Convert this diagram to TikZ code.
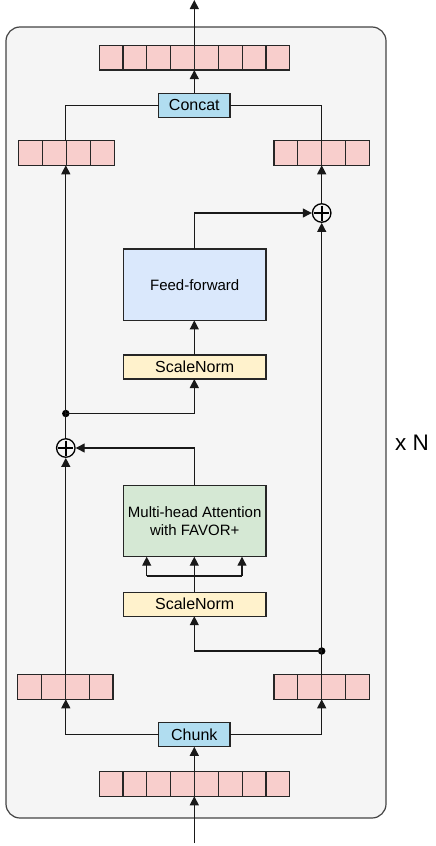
\documentclass[tikz,border=0pt]{standalone}
\usepackage{fontspec}
\setmainfont{Liberation Sans}
\usetikzlibrary{arrows.meta,calc}
\definecolor{bgfill}{HTML}{F5F5F5}
\definecolor{bgline}{HTML}{444444}
\definecolor{vecfill}{HTML}{F8CECC}
\definecolor{opfill}{HTML}{B1DDF0}
\definecolor{fffill}{HTML}{DAE8FC}
\definecolor{snfill}{HTML}{FFF2CC}
\definecolor{mhafill}{HTML}{D5E8D4}
\tikzset{
  base/.style={draw=black!85, line width=1.2pt, inner sep=0pt, outer sep=0pt},
  vecbox/.style={base, fill=vecfill, minimum height=24.5pt},
  opbox/.style={base, fill=opfill, minimum width=71.3pt, minimum height=24pt, font=\fontsize{16}{18}\selectfont},
  snbox/.style={base, fill=snfill, minimum width=142.7pt, minimum height=24pt, font=\fontsize{16}{18}\selectfont},
  bigbox/.style={base, minimum width=142.7pt, minimum height=71.4pt, align=center, font=\fontsize{15}{17.5}\selectfont},
  conn/.style={draw=black!90, line width=1.2pt},
  arr/.style={conn, -{Triangle[length=9pt,width=9pt]}},
  plusnode/.style={circle, draw=black, line width=1.3pt, minimum size=18.5pt, inner sep=0pt, fill=bgfill},
  plusbar/.style={draw=black, line width=1.6pt},
  dotnode/.style={circle, fill=black, minimum size=7.5pt, inner sep=0pt},
}
\begin{document}
\begin{tikzpicture}[x=1pt,y=-1pt]
\useasboundingbox (0,0) rectangle (436,846);
% background
\draw[fill=bgfill, draw=bgline, line width=1.2pt, rounded corners=14pt] (6,27) rectangle (386,818);
\node[font=\fontsize{22.5}{24}\selectfont, anchor=west, inner sep=0pt] (xn) at (395,443) {x N};

% vectors
\node[vecbox, minimum width=190.5pt] (topvec) at (194.5,57.8) {};
\node[vecbox, minimum width=95.5pt] (tl) at (66.5,153) {};
\node[vecbox, minimum width=95.3pt] (tr) at (321.7,153) {};
\node[vecbox, minimum width=95.7pt] (bl) at (65.2,687) {};
\node[vecbox, minimum width=95.3pt] (br) at (321.7,687) {};
\node[vecbox, minimum width=190.5pt] (botvec) at (194.5,784) {};
\foreach \v/\n in {topvec/8,tl/4,tr/4,bl/4,br/4,botvec/8}{
  \pgfmathtruncatemacro{\m}{\n-1}
  \foreach \i in {1,...,\m}{
    \draw[draw=black!85, line width=1.2pt] ($(\v.north west)!\i/\n!(\v.north east)$) -- ($(\v.south west)!\i/\n!(\v.south east)$);
  }
}

% boxes
\node[opbox] (concat) at (194.3,105.3) {Concat};
\node[opbox] (chunk) at (194.3,734.8) {Chunk};
\node[bigbox, fill=fffill] (ff) at (194.7,284.7) {Feed-forward};
\node[snbox] (sn1) at (194.7,367) {ScaleNorm};
\node[bigbox, fill=mhafill] (mha) at (194.7,521) {Multi-head Attention\\with FAVOR+};
\node[snbox] (sn2) at (194.7,604.2) {ScaleNorm};

% operators
\node[plusnode] (p2) at (321.7,213) {};
\node[plusnode] (p1) at (65.8,448) {};
\foreach \p in {p1,p2}{
  \draw[plusbar] ($(\p.center)+(-7.5,0)$) -- ($(\p.center)+(7.5,0)$);
  \draw[plusbar] ($(\p.center)+(0,-7.5)$) -- ($(\p.center)+(0,7.5)$);
}
\node[dotnode] (d1) at (65.8,413.5) {};
\node[dotnode] (d2) at (321.7,651) {};

\coordinate (out) at (194.3,0);
\coordinate (in) at (194.3,843);

% connectors
\draw[arr] (topvec.north -| concat) -- (out);
\draw[arr] (concat.north) -- (topvec.south -| concat);
\draw[conn] (concat.west) -| (tl.north -| p1);
\draw[conn] (concat.east) -| (tr.north -| p2);
\draw[arr] (p1.north) -- (tl.south -| p1);
\draw[arr] (d1.center) -| (sn1.south -| concat);
\draw[arr] (sn1.north -| concat) -- (ff.south -| concat);
\draw[arr] (ff.north -| concat) |- (p2.west);
\draw[arr] (p2.north) -- (tr.south -| p2);
\draw[arr] (d2.center) -- (p2.south);
\draw[arr] (mha.north -| concat) |- (p1.east);
\draw[arr] (bl.north -| p1) -- (p1.south);
\draw[conn] (br.north -| p2) -- (d2.center);
\draw[arr] (d2.center) -| (sn2.south -| concat);
\coordinate (split) at (194.3,576);
\coordinate (splitl) at (146.7,576);
\coordinate (splitr) at (242,576);
\draw[conn] (sn2.north -| concat) -- (split);
\draw[conn] (splitl) -- (splitr);
\draw[arr] (splitl) -- (mha.south -| splitl);
\draw[arr] (split) -- (mha.south -| split);
\draw[arr] (splitr) -- (mha.south -| splitr);
\draw[arr] (chunk.west) -| (bl.south -| p1);
\draw[arr] (chunk.east) -| (br.south -| p2);
\draw[arr] (botvec.north -| chunk) -- (chunk.south);
\draw[arr] (in) -- (botvec.south -| chunk);
\end{tikzpicture}
\end{document}
